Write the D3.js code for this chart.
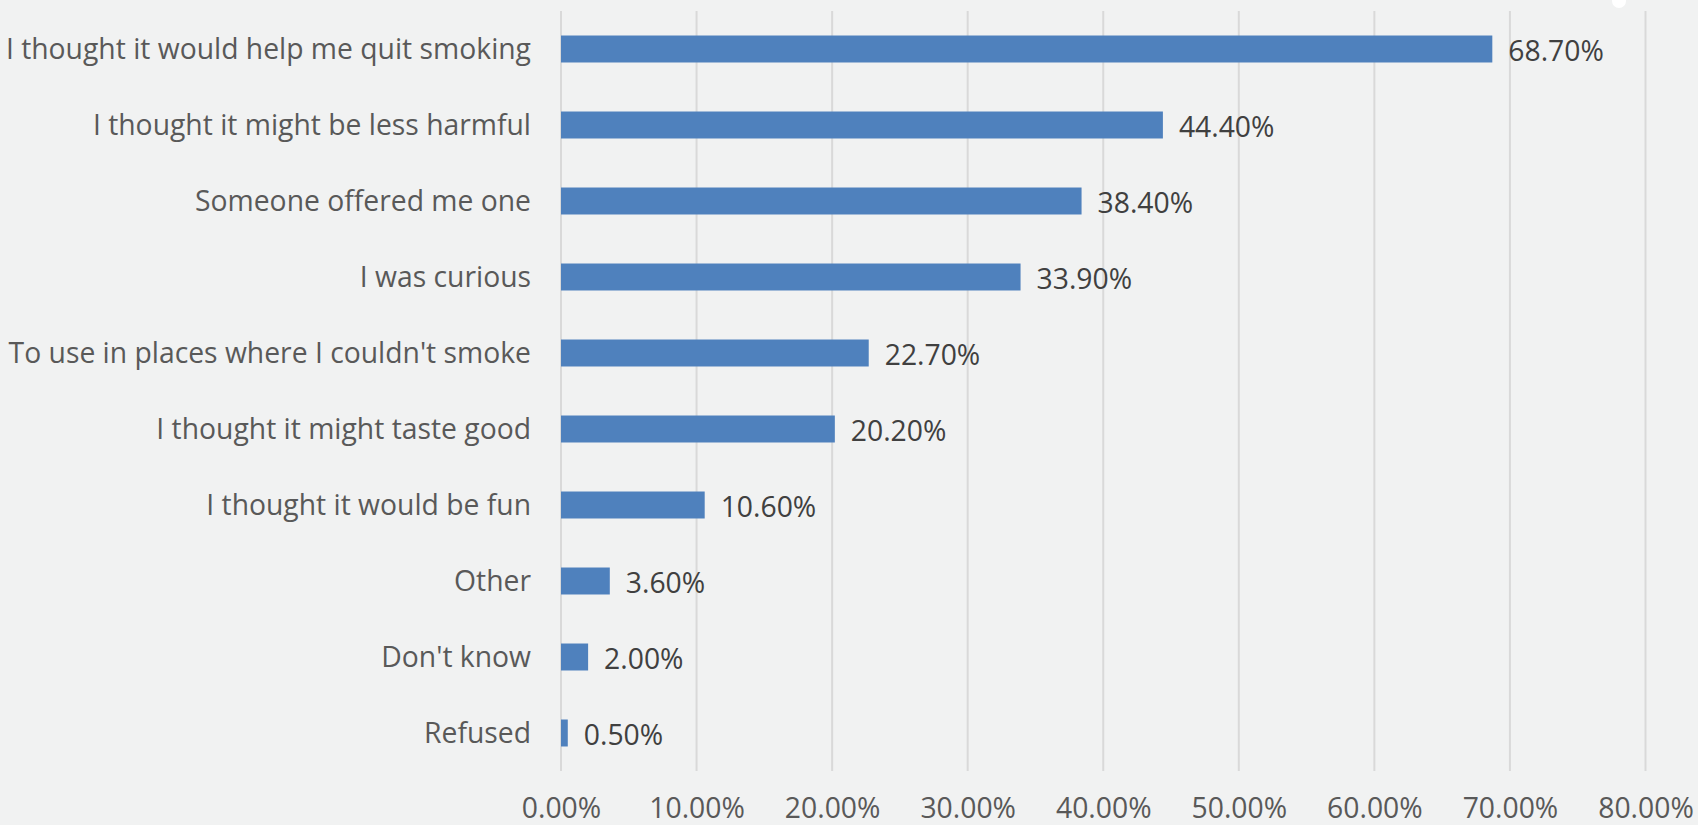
<!DOCTYPE html>
<html>
<head>
<meta charset="utf-8">
<script src="https://cdn.jsdelivr.net/npm/d3@7"></script>
<style>
  html, body { margin: 0; padding: 0; background: #f1f2f2; }
  svg { display: block; font-family: 'Open Sans', sans-serif; }
</style>
</head>
<body>
<div id="chart"></div>
<script>
// chart data
const categories = [
  'I thought it would help me quit smoking',
  'I thought it might be less harmful',
  'Someone offered me one',
  'I was curious',
  "To use in places where I couldn't smoke",
  'I thought it might taste good',
  'I thought it would be fun',
  'Other',
  "Don't know",
  'Refused'
];
const values = [0.687, 0.444, 0.384, 0.339, 0.227, 0.202, 0.106, 0.036, 0.020, 0.005];
const xTicks = [0, 0.1, 0.2, 0.3, 0.4, 0.5, 0.6, 0.7, 0.8];

const width = 1698;
const height = 825;
const margin = { top: 11, right: 52.5, bottom: 54, left: 561 };
const innerW = width - margin.left - margin.right;
const innerH = height - margin.top - margin.bottom;
const fontSize = '28.3px';

const svg = d3.select('#chart').append('svg')
  .attr('width', width)
  .attr('height', height);

svg.append('rect')
  .attr('width', width)
  .attr('height', height)
  .attr('fill', '#f1f2f2');

const chart = svg.append('g')
  .attr('transform', `translate(${margin.left},${margin.top})`);

// scales
const xScale = d3.scaleLinear()
  .domain([0, 0.8])
  .range([0, innerW]);

const yScale = d3.scaleBand()
  .domain(categories)
  .range([0, innerH])
  .paddingInner(0.645)
  .paddingOuter(0.3225);

// gridlines
chart.append('g')
  .attr('class', 'grid')
  .selectAll('line')
  .data(xTicks)
  .enter().append('line')
  .attr('x1', d => xScale(d))
  .attr('x2', d => xScale(d))
  .attr('y1', 0)
  .attr('y2', innerH)
  .attr('stroke', '#d9d9d9')
  .attr('stroke-width', 2);

// x axis (labels only)
const xaxis = d3.axisBottom(xScale)
  .tickValues(xTicks)
  .tickSize(0)
  .tickPadding(27)
  .tickFormat(d3.format('.2%'));

const gx = chart.append('g')
  .attr('class', 'x axis')
  .attr('transform', `translate(0,${innerH})`)
  .call(xaxis);
gx.select('.domain').remove();
gx.selectAll('text')
  .attr('fill', '#595959')
  .style('font-size', fontSize)
  .style('font-family', "'Open Sans', sans-serif");

// y axis (category labels)
const yaxis = d3.axisLeft(yScale)
  .tickSize(0)
  .tickPadding(30);

const gy = chart.append('g')
  .attr('class', 'y axis')
  .call(yaxis);
gy.select('.domain').remove();
gy.selectAll('text')
  .attr('fill', '#595959')
  .attr('dy', '0.36em')
  .style('font-size', fontSize)
  .style('font-family', "'Open Sans', sans-serif");

// bars
const rows = categories.map((c, i) => ({ category: c, value: values[i] }));

chart.selectAll('.bar')
  .data(rows)
  .enter().append('rect')
  .classed('bar', true)
  .attr('x', xScale(0))
  .attr('y', d => yScale(d.category))
  .attr('width', d => xScale(d.value) - xScale(0))
  .attr('height', yScale.bandwidth())
  .attr('fill', '#4f81bd');

// value labels
chart.selectAll('.value')
  .data(rows)
  .enter().append('text')
  .classed('value', true)
  .attr('x', d => xScale(d.value) + 16)
  .attr('y', d => yScale(d.category) + yScale.bandwidth() / 2)
  .attr('dy', '0.42em')
  .attr('fill', '#404040')
  .style('font-size', fontSize)
  .text(d => d3.format('.2%')(d.value));

// small white handle at top edge
svg.append('circle')
  .attr('cx', 1619)
  .attr('cy', 1)
  .attr('r', 7)
  .attr('fill', '#ffffff');
</script>
</body>
</html>
